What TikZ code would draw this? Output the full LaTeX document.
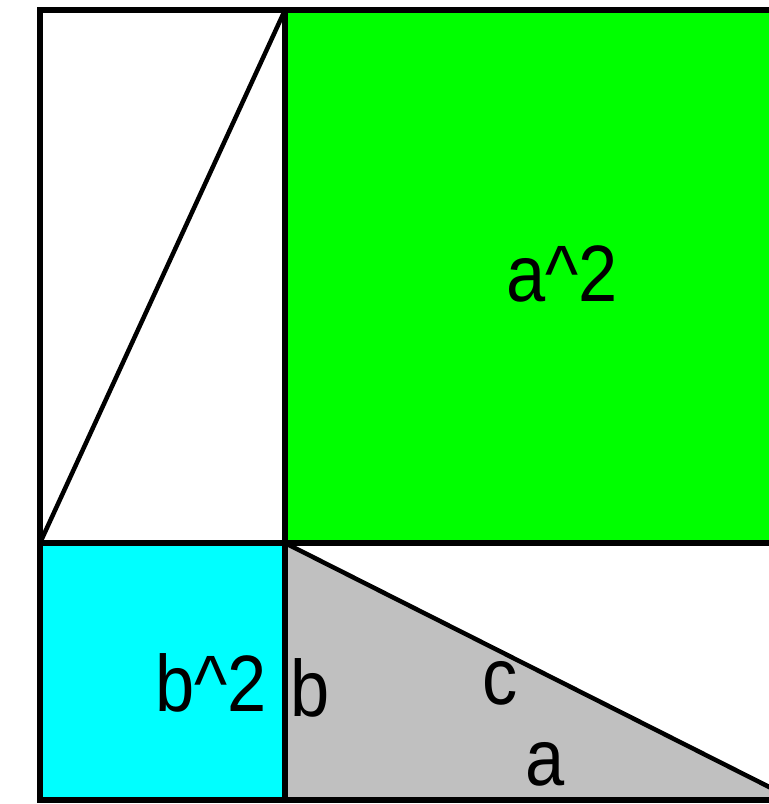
\documentclass[tikz,border=0pt]{standalone}
\usepackage{fontspec}
\setmainfont{Liberation Sans}
\usepackage{xcolor}
\usetikzlibrary{positioning}
\definecolor{SquareA}{HTML}{00FF00}
\definecolor{SquareB}{HTML}{00FFFF}
\definecolor{TriangleFill}{HTML}{C0C0C0}
\tikzset{
  figure/.style={x=1pt,y=1pt,line join=miter},
  frame/.style={draw=black,line width=6pt},
  edge/.style={draw=black,line width=5.5pt},
  slant/.style={draw=black,line width=4.5pt},
  label/.style={font=\fontsize{80}{80}\selectfont,inner sep=0pt,anchor=base,
    xscale=0.88,transform shape},
}
\begin{document}
\begin{tikzpicture}[figure]
  \useasboundingbox (0,0) rectangle (769,804);
  \clip (0,0) rectangle (769,804);
  \fill[white] (0,0) rectangle (769,804);

  % corners of the figure
  \coordinate (TL) at (40,794);
  \coordinate (BL) at (40,4);
  \coordinate (MidL) at (40,261);
  \coordinate (MidC) at (285,261);
  \coordinate (TopC) at (285,794);
  \coordinate (BotC) at (285,4);
  \coordinate (TR) at (795,794);
  \coordinate (MidR) at (795,261);
  \coordinate (BR) at (795,4);

  % coloured pieces
  \fill[SquareA] (TopC) rectangle (MidR);
  \fill[SquareB] (BL) rectangle (MidC);
  \fill[TriangleFill] (MidC) -- (BotC) -- (BR) -- cycle;

  % lines
  \draw[slant] (MidL) -- (TopC);
  \draw[slant] (MidC) -- (BR);
  \draw[edge] (MidL) -- (MidR);
  \draw[edge] (TopC) -- (BotC);
  \draw[frame] (TR) -- (TL) -- (BL) -- (BR);

  % labels
  \node[label] (asq) at (562,502) {a\^{}2};
  \node[label] (bsq) at (211,92) {b\^{}2};
  \node[label] (sideb) at (310,87) {b};
  \node[label] (sidec) at (500,99) {c};
  \node[label] (sidea) at (545,19) {a};
\end{tikzpicture}
\end{document}
